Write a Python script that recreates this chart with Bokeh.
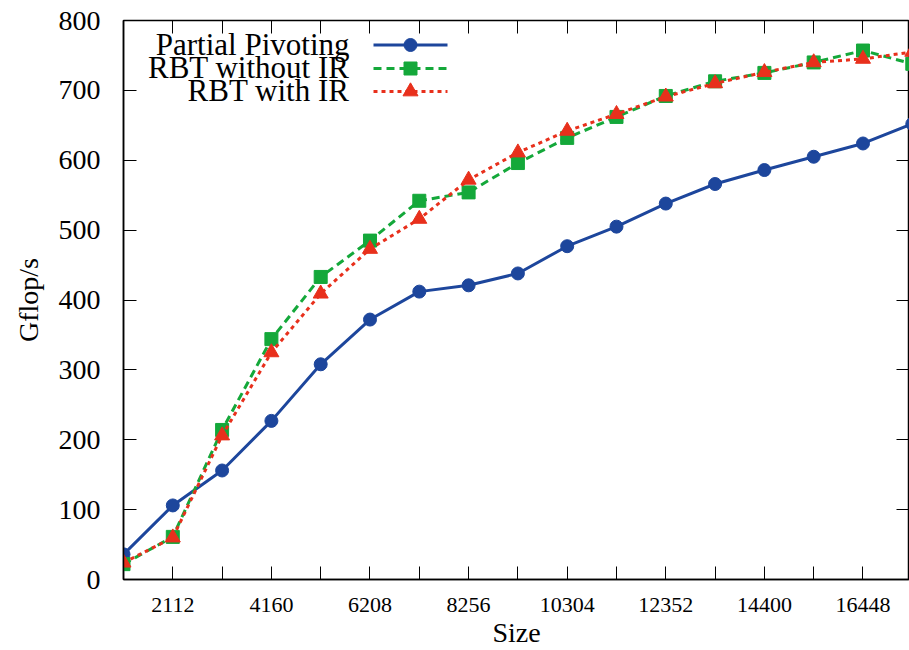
from bokeh.plotting import figure
from bokeh.models import LinearAxis, FixedTicker, Range1d
from bokeh.core.properties import value
from bokeh.embed import file_html
from bokeh.resources import INLINE

# ---- data ----
sizes = [1088, 2112, 3136, 4160, 5184, 6208, 7232, 8256, 9280, 10304,
         11328, 12352, 13376, 14400, 15424, 16448, 17472]
partial_pivoting = [36, 106, 156, 227, 308, 372, 412, 421, 438, 477,
                    505, 538, 566, 586, 605, 624, 652]
rbt_without_ir = [22, 61, 214, 344, 433, 485, 542, 554, 596, 632,
                  662, 692, 713, 725, 740, 757, 738]
rbt_with_ir = [24, 60, 206, 325, 409, 473, 516, 572, 611, 642,
               666, 691, 710, 726, 740, 745, 755]

series_names = ["Partial Pivoting", "RBT without IR", "RBT with IR"]
x_ticks = [2112, 3136, 4160, 5184, 6208, 7232, 8256, 9280, 10304, 11328,
           12352, 13376, 14400, 15424, 16448]
x_labeled = [2112, 4160, 6208, 8256, 10304, 12352, 14400, 16448]
y_ticks = [0, 100, 200, 300, 400, 500, 600, 700, 800]

# ---- styles ----
FONT = "Liberation Serif"
BLUE = "#1d469c"
GREEN = "#14a83a"
RED = "#e8301c"

X0, X1 = 1088, 17414
Y0, Y1 = 0, 800

p = figure(width=909, height=650, output_backend="svg", toolbar_location=None,
           x_range=Range1d(X0, X1), y_range=Range1d(Y0, Y1),
           x_axis_location="below", y_axis_location="left")
p.min_border_left = 123
p.min_border_right = 0
p.min_border_top = 20
p.min_border_bottom = 71
p.background_fill_color = "white"
p.border_fill_color = "white"
p.outline_line_color = "black"
p.outline_line_width = 1.5
p.xgrid.visible = False
p.ygrid.visible = False

labels = {t: (str(t) if t in x_labeled else "") for t in x_ticks}

xa = p.xaxis[0]
xa.ticker = FixedTicker(ticks=x_ticks)
xa.major_label_overrides = labels
xa.axis_label = "Size"
ya = p.yaxis[0]
ya.ticker = FixedTicker(ticks=y_ticks)
ya.axis_label = "Gflop/s"

for ax in (xa, ya):
    ax.major_tick_in = 13
    ax.major_tick_out = 0
    ax.minor_tick_line_color = None
    ax.axis_line_color = "black"
    ax.axis_line_width = 1.5
    ax.major_tick_line_color = "black"
    ax.major_tick_line_width = 1
    ax.major_label_text_font = FONT
    ax.axis_label_text_font = FONT
    ax.axis_label_text_font_style = "normal"
    ax.axis_label_text_font_size = "28px"
    ax.major_label_text_color = "black"
    ax.axis_label_text_color = "black"

xa.major_label_text_font_size = "22px"
xa.major_label_standoff = 18
xa.axis_label_standoff = 2
ya.major_label_text_font_size = "28px"
ya.major_label_standoff = 23
ya.axis_label_standoff = 12

top = LinearAxis(ticker=FixedTicker(ticks=x_ticks))
right = LinearAxis(ticker=FixedTicker(ticks=y_ticks))
for ax in (top, right):
    ax.major_tick_in = 13
    ax.major_tick_out = 0
    ax.minor_tick_line_color = None
    ax.axis_line_color = None
    ax.major_tick_line_color = "black"
    ax.major_label_text_font_size = "0px"
    ax.major_label_standoff = 0
    ax.major_label_text_color = None
p.add_layout(top, "above")
p.add_layout(right, "right")

# ---- series ----
p.line(sizes, partial_pivoting, line_color=BLUE, line_width=3)
p.scatter(sizes, partial_pivoting, marker="circle", size=13,
          fill_color=BLUE, line_color=BLUE)

p.line(sizes, rbt_without_ir, line_color=GREEN, line_width=3, line_dash="8 5")
p.scatter(sizes, rbt_without_ir, marker="square", size=13,
          fill_color=GREEN, line_color=GREEN)

p.line(sizes, rbt_with_ir, line_color=RED, line_width=3, line_dash="4 4")
p.scatter(sizes, rbt_with_ir, marker="triangle", size=15,
          fill_color=RED, line_color=RED)

# ---- legend (drawn by hand: label left, sample right) ----
FRAME_L, FRAME_R, FRAME_T, FRAME_B = 123, 909, 20, 579  # page pixels

def px_x(px):
    return X0 + (px - FRAME_L) * (X1 - X0) / (FRAME_R - FRAME_L)

def px_y(py):
    return Y0 + (FRAME_B - py) * (Y1 - Y0) / (FRAME_B - FRAME_T)

legend_rows_py = [44.5, 68, 91]
legend_styles = [
    (BLUE, None, "circle", 13),
    (GREEN, "8 5", "square", 13),
    (RED, "4 4", "triangle", 15),
]
for name, py, (col, dash, mk, ms) in zip(series_names, legend_rows_py, legend_styles):
    yy = px_y(py)
    p.text([px_x(349)], [px_y(py - 1)], text=[name], text_align="right",
           text_baseline="middle", text_font=value(FONT),
           text_font_size="31px", text_color="black")
    kw = dict(line_color=col, line_width=3)
    if dash:
        kw["line_dash"] = dash
    p.line([px_x(373), px_x(447)], [yy, yy], **kw)
    p.scatter([px_x(410)], [yy], marker=mk, size=ms, fill_color=col, line_color=col)

open("out.html", "w").write(file_html(p, INLINE))
